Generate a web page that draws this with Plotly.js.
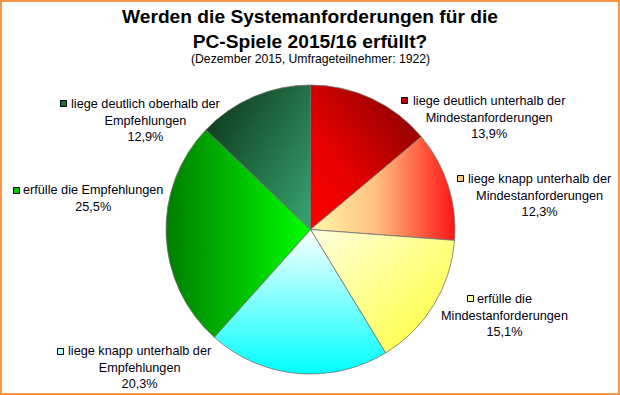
<!DOCTYPE html>
<html>
<head>
<meta charset="utf-8">
<script src="https://cdn.plot.ly/plotly-3.0.1.min.js"></script>
<style>
  html, body { margin: 0; padding: 0; background: #fff; }
  #chart { width: 620px; height: 395px; }
</style>
</head>
<body>
<div id="chart"></div>
<script>
// ---- data ----
const labelLines = [
  ['liege deutlich unterhalb der', 'Mindestanforderungen'],
  ['liege knapp unterhalb der', 'Mindestanforderungen'],
  ['erfülle die', 'Mindestanforderungen'],
  ['liege knapp unterhalb der', 'Empfehlungen'],
  ['erfülle die Empfehlungen'],
  ['liege deutlich oberhalb der', 'Empfehlungen']
];
const categories = labelLines.map(l => l.join(' '));
const values = [13.9, 12.3, 15.1, 20.3, 25.5, 12.9];
const titleText = 'Werden die Systemanforderungen für die<br>PC-Spiele 2015/16 erfüllt?';
const subtitleText = '(Dezember 2015, Umfrageteilnehmer: 1922)';

// ---- styles ----
const baseColors = ['#D00000', '#FFB070', '#FFFF99', '#B0FFFF', '#00C000', '#1F7040'];
const squareColors = ['#C00000', '#FFC870', '#FFFF99', '#A8FFFF', '#00C800', '#1F6F40'];
const gradients = [
  {x1: 0, y1: 1, x2: 1, y2: 0, stops: [[0, '#FF0000'], [0.35, '#E80000'], [1, '#7A0000']]},
  {x1: 0, y1: 0, x2: 1, y2: 0, stops: [[0, '#FFF8A8'], [0.45, '#FFC080'], [1, '#FF1414']]},
  {x1: 0, y1: 0, x2: 1, y2: 1, stops: [[0, '#FFFFE0'], [1, '#FFFF30']]},
  {x1: 0, y1: 0, x2: 0, y2: 1, stops: [[0, '#FFFFFF'], [1, '#00FFFF']]},
  {x1: 0, y1: 0, x2: 1, y2: 0, stops: [[0, '#007E00'], [1, '#00FF00']]},
  {x1: 0, y1: 0.1, x2: 1, y2: 0.9, stops: [[0, '#0C3618'], [1, '#36A06C']]}
];
// label placement in pixels: square top-left, text block center x, block center y
const squarePos = [[401, 97], [457, 175], [467, 295], [57, 348], [13, 187], [60, 100]];
const blockCX = [489, 540, 504, 139.5, 93.3, 145.5];
const blockCY = [117.7, 195, 315, 367, 198.7, 120];

const W = 620, H = 395;
const px = x => x / W;
const py = y => 1 - y / H;
const FONT = '"Liberation Sans", Arial, sans-serif';
const fmt = v => v.toFixed(1).replace('.', ',') + '%';

const annotations = labelLines.map((lines, i) => ({
  xref: 'paper', yref: 'paper',
  x: px(blockCX[i]), y: py(blockCY[i]),
  xanchor: 'center', yanchor: 'middle',
  align: 'center', showarrow: false,
  text: lines.concat([fmt(values[i])]).join('<br>'),
  font: {family: FONT, size: 12.7, color: '#000010'}
}));
annotations.push({
  xref: 'paper', yref: 'paper', x: 0.5, y: py(59.3),
  xanchor: 'center', yanchor: 'middle', showarrow: false,
  text: subtitleText, font: {family: FONT, size: 12.2, color: '#000000'}
});

const shapes = squarePos.map((p, i) => ({
  type: 'rect', xref: 'paper', yref: 'paper',
  x0: px(p[0] + 0.5), x1: px(p[0] + 6.5), y0: py(p[1] + 6.5), y1: py(p[1] + 0.5),
  line: {color: '#000000', width: 1}, fillcolor: squareColors[i]
}));
shapes.push({
  type: 'rect', xref: 'paper', yref: 'paper',
  x0: px(1), x1: px(619), y0: py(394), y1: py(1),
  line: {color: '#F79646', width: 2}, fillcolor: 'rgba(0,0,0,0)'
});

const trace = {
  type: 'pie',
  labels: categories,
  values: values,
  sort: false,
  direction: 'clockwise',
  rotation: 0,
  textinfo: 'none',
  hoverinfo: 'label+percent',
  marker: {colors: baseColors, line: {color: '#707070', width: 0.8}},
  domain: {x: [px(166), px(455)], y: [py(374), py(85)]},
  showlegend: false
};

const layout = {
  width: W, height: H,
  margin: {l: 0, r: 0, t: 0, b: 0},
  paper_bgcolor: '#ffffff',
  title: {
    text: titleText,
    font: {family: FONT, size: 19.2, color: '#000000', weight: 'bold'},
    x: 0.5, xanchor: 'center', xref: 'paper',
    y: 1 - 23 / H, yanchor: 'middle', yref: 'container'
  },
  annotations: annotations,
  shapes: shapes,
  showlegend: false
};

function applyGradients(gd) {
  const ns = 'http://www.w3.org/2000/svg';
  const svg = gd.querySelector('.main-svg');
  let defs = svg.querySelector('defs');
  if (!defs) { defs = document.createElementNS(ns, 'defs'); svg.insertBefore(defs, svg.firstChild); }
  gradients.forEach((g, i) => {
    const lg = document.createElementNS(ns, 'linearGradient');
    lg.setAttribute('id', 'sliceGrad' + i);
    lg.setAttribute('x1', g.x1); lg.setAttribute('y1', g.y1);
    lg.setAttribute('x2', g.x2); lg.setAttribute('y2', g.y2);
    g.stops.forEach(s => {
      const st = document.createElementNS(ns, 'stop');
      st.setAttribute('offset', s[0]);
      st.setAttribute('stop-color', s[1]);
      lg.appendChild(st);
    });
    defs.appendChild(lg);
  });
  gd.querySelectorAll('g.slice path.surface').forEach((p, i) => {
    p.style.fill = 'url(#sliceGrad' + i + ')';
  });
}

Plotly.newPlot('chart', [trace], layout, {displayModeBar: false, staticPlot: true})
  .then(applyGradients);
</script>
</body>
</html>
